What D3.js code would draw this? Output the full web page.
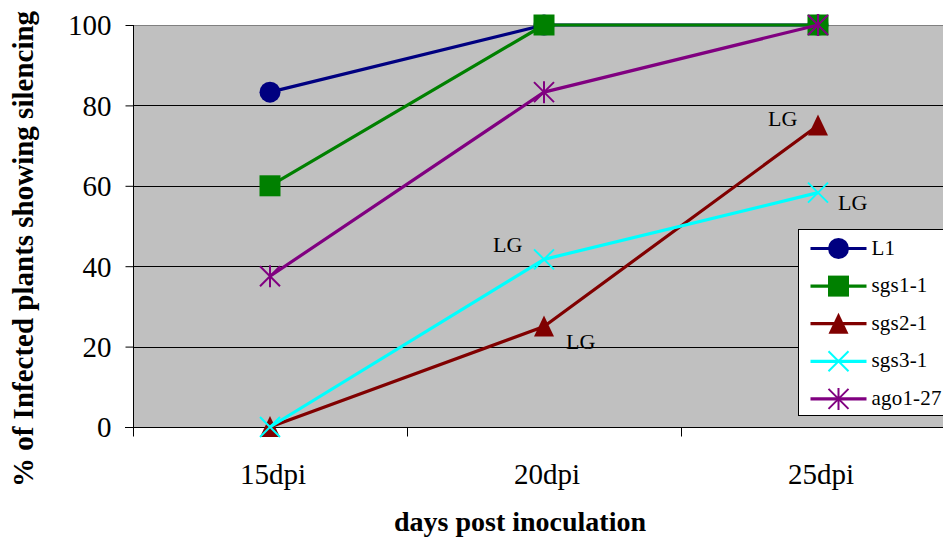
<!DOCTYPE html>
<html>
<head>
<meta charset="utf-8">
<script src="https://cdn.jsdelivr.net/npm/d3@7/dist/d3.min.js"></script>
<style>
  html, body { margin: 0; padding: 0; background: #fff; }
  svg { display: block; }
</style>
</head>
<body>
<svg id="chart" width="943" height="542"></svg>
<script>
const categories = ["15dpi", "20dpi", "25dpi"];
const seriesNames = ["L1", "sgs1-1", "sgs2-1", "sgs3-1", "ago1-27"];
const L1 = [83.3, 100, 100];
const sgs1_1 = [60, 100, 100];
const sgs2_1 = [0, 25, 75];
const sgs3_1 = [0, 41.7, 58.3];
const ago1_27 = [37.5, 83.3, 100];
const yTicks = [0, 20, 40, 60, 80, 100];
const colors = ["#000080", "#008000", "#800000", "#00FFFF", "#800080"];
const markers = ["circle", "square", "triangle", "x", "star"];
// annotations: [seriesIndex, categoryIndex, label]
const annotations = [
  [3, 1, "LG"], [2, 1, "LG"], [2, 2, "LG"], [3, 2, "LG"]
];
const annOffsets = [[-51, -7], [22, 22], [-50, 0], [20, 17]];

const FONT = "'Liberation Serif', 'Times New Roman', Times, serif";
const seriesValues = [L1, sgs1_1, sgs2_1, sgs3_1, ago1_27];
const svg = d3.select("#chart").attr("font-family", FONT).style("font-family", FONT);

const plot = { left: 133, right: 955, top: 25, bottom: 427 };
const x = d3.scaleBand().domain(categories).range([plot.left, plot.right]).padding(0);
const y = d3.scaleLinear().domain([0, 100]).range([plot.bottom, plot.top]);
const cx = c => x(c) + x.bandwidth() / 2;

function txt(sel) {
  return sel.attr("font-family", FONT).style("font-family", FONT).attr("fill", "#000");
}

// plot background
svg.append("rect")
  .attr("x", plot.left).attr("y", plot.top)
  .attr("width", plot.right - plot.left).attr("height", plot.bottom - plot.top)
  .attr("fill", "#C0C0C0");

// gridlines
svg.append("g").selectAll("line")
  .data(yTicks.filter(t => t > 0))
  .join("line")
  .attr("x1", plot.left).attr("x2", plot.right)
  .attr("y1", d => Math.round(y(d)) + 0.5).attr("y2", d => Math.round(y(d)) + 0.5)
  .attr("stroke", d => d === 100 ? "#808080" : "#000")
  .attr("stroke-width", 1);

// y axis
const yAxis = d3.axisLeft(y).tickValues(yTicks).tickSize(8).tickPadding(14).tickFormat(d3.format("d"));
const gy = svg.append("g").attr("transform", `translate(${plot.left + 0.5},0)`).call(yAxis);
gy.attr("font-family", FONT);
gy.select(".domain").attr("stroke", "#000").attr("d", `M0,${plot.top}V${plot.bottom}`);
gy.selectAll(".tick line").attr("stroke", "#000");
txt(gy.selectAll(".tick text")).style("font-size", "29px").attr("dy", "0.34em");

// x axis
const gx = svg.append("g").attr("transform", `translate(0,${plot.bottom + 0.5})`);
gx.append("line").attr("x1", plot.left - 8).attr("x2", plot.right).attr("y1", 0).attr("y2", 0).attr("stroke", "#000");
const boundaries = categories.map(c => x(c)).concat([plot.right]);
gx.selectAll("line.tk").data(boundaries).join("line").attr("class", "tk")
  .attr("x1", d => Math.round(d) + 0.5).attr("x2", d => Math.round(d) + 0.5)
  .attr("y1", 0).attr("y2", 9).attr("stroke", "#000");
txt(gx.selectAll("text").data(categories).join("text"))
  .attr("x", d => cx(d) + 3).attr("y", 56)
  .attr("text-anchor", "middle")
  .style("font-size", "29px")
  .text(d => d);

// axis titles
txt(svg.append("text")).attr("x", 520).attr("y", 531).attr("text-anchor", "middle")
  .style("font-size", "28px").style("font-weight", "bold").text("days post inoculation");
txt(svg.append("text")).attr("transform", "translate(33,249) rotate(-90)").attr("text-anchor", "middle")
  .style("font-size", "29px").style("font-weight", "bold").text("% of Infected plants showing silencing");

function drawMarker(g, type, color) {
  if (type === "circle") {
    g.append("circle").attr("r", 10.5).attr("fill", color);
  } else if (type === "square") {
    g.append("rect").attr("x", -10.5).attr("y", -10.5).attr("width", 21).attr("height", 21).attr("fill", color);
  } else if (type === "triangle") {
    g.append("path").attr("d", "M0,-11L10,10L-10,10Z").attr("fill", color);
  } else if (type === "x") {
    g.append("path").attr("d", "M-10,-10L10,10M-10,10L10,-10").attr("stroke", color).attr("stroke-width", 2).attr("fill", "none");
  } else if (type === "star") {
    g.append("path").attr("d", "M-10,-10L10,10M-10,10L10,-10M0,-11V11").attr("stroke", color).attr("stroke-width", 2).attr("fill", "none");
  }
}

const line = d3.line().x((d, i) => cx(categories[i])).y(d => y(d));
seriesValues.forEach((vals, si) => {
  const g = svg.append("g");
  g.append("path").attr("d", line(vals)).attr("fill", "none")
    .attr("stroke", colors[si]).attr("stroke-width", 3.2).attr("stroke-linejoin", "round");
  vals.forEach((v, ci) => {
    const mg = g.append("g").attr("transform", `translate(${cx(categories[ci])},${y(v)})`);
    drawMarker(mg, markers[si], colors[si]);
  });
});

// annotations
annotations.forEach((a, k) => {
  const [si, ci, lab] = a;
  const px = cx(categories[ci]), py = y(seriesValues[si][ci]);
  txt(svg.append("text")).attr("x", px + annOffsets[k][0]).attr("y", py + annOffsets[k][1])
    .style("font-size", "22px").text(lab);
});

// legend
const lg = svg.append("g").attr("transform", "translate(798.5,229.5)");
lg.append("rect").attr("x", 0).attr("y", 0).attr("width", 170).attr("height", 186)
  .attr("fill", "#fff").attr("stroke", "#000").attr("stroke-width", 1);
seriesNames.forEach((name, si) => {
  const ry = 19 + si * 37.6;
  const row = lg.append("g").attr("transform", `translate(0,${ry})`);
  row.append("line").attr("x1", 12).attr("x2", 68).attr("y1", 0).attr("y2", 0)
    .attr("stroke", colors[si]).attr("stroke-width", 3.2);
  const mg = row.append("g").attr("transform", "translate(40,0)");
  drawMarker(mg, markers[si], colors[si]);
  txt(row.append("text")).attr("x", 73).attr("y", 6).style("font-size", "21px").style("letter-spacing", "0.2px").text(name);
});
</script>
</body>
</html>
